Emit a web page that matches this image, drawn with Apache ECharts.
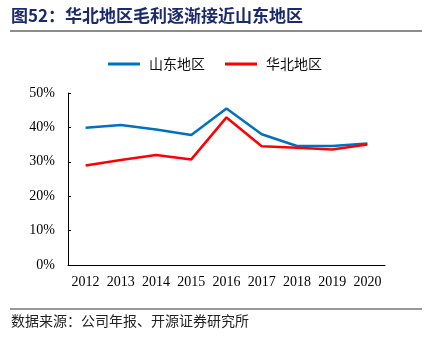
<!DOCTYPE html>
<html><head><meta charset="utf-8">
<script src="https://cdn.jsdelivr.net/npm/echarts@6/dist/echarts.min.js"></script>
<style>html,body{margin:0;padding:0;background:#fff;}#c{width:430px;height:341px;}</style>
</head><body><div id="c"></div>
<script>
var years = ['2012','2013','2014','2015','2016','2017','2018','2019','2020'];
var shandong = [39.9, 40.7, 39.4, 37.8, 45.5, 38.0, 34.6, 34.6, 35.3];
var huabei = [28.9, 30.5, 32.0, 30.7, 42.9, 34.5, 34.1, 33.6, 35.0];
var seriesNames = ['山东地区', '华北地区'];
var titleText = '图52：华北地区毛利逐渐接近山东地区';
var sourceText = '数据来源：公司年报、开源证券研究所';

var chart = echarts.init(document.getElementById('c'), null, {renderer: 'canvas'});
var serif = '"Liberation Serif", "Times New Roman", serif';
var cjk = '"Noto Sans CJK SC", sans-serif';
chart.setOption({
  animation: false,
  graphic: [
    {type: 'text', left: 11, top: 7, style: {text: titleText, font: 'bold 17px "Noto Sans CJK SC", sans-serif', fill: '#1a2a6c'}},
    {type: 'rect', shape: {x: 10, y: 30, width: 412, height: 2}, style: {fill: '#8c8c8c'}},
    {type: 'rect', shape: {x: 10, y: 308.5, width: 412, height: 1}, style: {fill: '#333'}},
    {type: 'text', left: 11, top: 314, style: {text: sourceText, font: '14px "Noto Sans CJK SC", sans-serif', fill: '#222'}}
  ],
  legend: {
    top: 52, left: 'center', itemWidth: 32, itemHeight: 3, itemGap: 20,
    icon: 'rect',
    textStyle: {fontFamily: cjk, fontSize: 14, color: '#111', padding: [0, 0, 0, 4]},
    data: seriesNames
  },
  grid: {left: 68, right: 45, top: 93, bottom: 76},
  xAxis: {
    type: 'category', data: years, boundaryGap: true,
    axisLine: {lineStyle: {color: '#000', width: 1}},
    axisTick: {inside: true, length: 4, lineStyle: {color: '#000'}},
    axisLabel: {interval: 0, hideOverlap: false, fontFamily: serif, fontSize: 14, color: '#000', margin: 10}
  },
  yAxis: {
    type: 'value', min: 0, max: 50, interval: 10,
    axisLine: {show: true, lineStyle: {color: '#000', width: 1}},
    axisTick: {show: true, inside: true, length: 3, lineStyle: {color: '#000'}},
    splitLine: {show: false},
    axisLabel: {fontFamily: serif, fontSize: 14, color: '#000', margin: 13, formatter: '{value}%'}
  },
  series: [
    {name: seriesNames[0], type: 'line', data: shandong, symbol: 'none', lineStyle: {color: '#0070c0', width: 2.5}, itemStyle: {color: '#0070c0'}},
    {name: seriesNames[1], type: 'line', data: huabei, symbol: 'none', lineStyle: {color: '#ff0000', width: 2.5}, itemStyle: {color: '#ff0000'}}
  ]
});
</script></body></html>
